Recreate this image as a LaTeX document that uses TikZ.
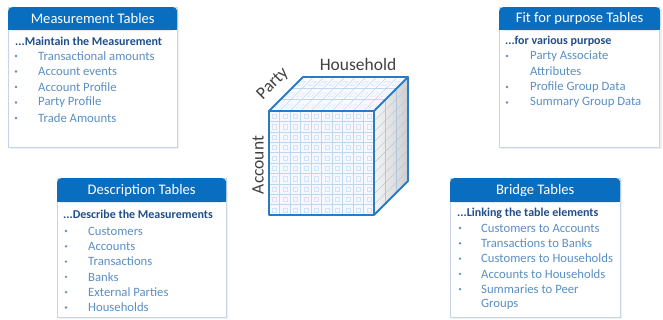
\documentclass[tikz,border=0pt]{standalone}
\usepackage{fontspec}
\setmainfont{Carlito}
\definecolor{hdrblue}{HTML}{0A6EC0}
\definecolor{boxline}{HTML}{C6D4EA}
\definecolor{subblue}{HTML}{1F4E8C}
\definecolor{itemblue}{HTML}{5B8FC4}
\definecolor{cubeblue}{HTML}{2A7BC6}
\definecolor{gridblue}{HTML}{BCD7F0}
\definecolor{gridsq}{HTML}{D2E4F5}
\definecolor{labgray}{HTML}{404040}
\tikzset{
  bodybox/.style={draw=boxline, line width=1pt, fill=white, anchor=north west, inner sep=0pt},
  hdr/.style={fill=hdrblue, text=white, rounded corners=4pt, anchor=north west, inner sep=0pt, font=\fontsize{14.6}{16}\selectfont},
  sub/.style={anchor=west, inner sep=0pt, text=subblue, font=\bfseries\fontsize{12}{14}\selectfont},
  item/.style={anchor=west, inner sep=0pt, text=itemblue, font=\fontsize{12.7}{14}\selectfont},
  bul/.style={circle, fill=itemblue, inner sep=0pt, minimum size=2.6pt},
  axlab/.style={text=labgray, inner sep=0pt, font=\fontsize{17.5}{20}\selectfont},
}
\begin{document}
\begin{tikzpicture}[x=1pt,y=-1pt]
\useasboundingbox (0,0) rectangle (663,320);

% ---------- Measurement Tables ----------
\fill[gray!12] (10,9) rectangle (179,149);
\node[bodybox, minimum width=169pt, minimum height=140pt] (mb) at (8,7) {};
\node[hdr, minimum width=169pt, minimum height=23pt] (mh) at (8,7) {Measurement Tables};
\fill[hdrblue] (8,24) rectangle (177,30);
\node[sub] (ms) at (15,41) {...Maintain the Measurement};
\foreach \t [count=\i] in {Transactional amounts, Account events, Account Profile, Party Profile, Trade Amounts}{
  \node[bul] (mbul\i) at (16,{56+15.5*(\i-1)}) {};
  \node[item] (mi\i) at (38,{56+15.5*(\i-1)}) {\t};
}

% ---------- Fit for purpose Tables ----------
\fill[gray!12] (501,9) rectangle (662,149);
\node[bodybox, minimum width=160pt, minimum height=140pt] (fb) at (499,7) {};
\node[hdr, minimum width=161pt, minimum height=23pt] (fh) at (499,7) {Fit for purpose Tables};
\fill[hdrblue] (499,24) rectangle (660,30);
\node[sub] (fs) at (505,41) {...for various purpose};
\node[bul] (fbul1) at (507,56) {};
\node[item] (fi1) at (530,56) {Party Associate};
\node[item] (fi1b) at (530,71.5) {Attributes};
\node[bul] (fbul2) at (507,87) {};
\node[item] (fi2) at (530,87) {Profile Group Data};
\node[bul] (fbul3) at (507,102.5) {};
\node[item] (fi3) at (530,102.5) {Summary Group Data};

% ---------- Description Tables ----------
\fill[gray!12] (59,180) rectangle (228,319);
\node[bodybox, minimum width=169pt, minimum height=139pt] (db) at (57,178) {};
\node[hdr, minimum width=169pt, minimum height=24pt] (dh) at (57,178) {Description Tables};
\fill[hdrblue] (57,196) rectangle (226,202);
\node[sub] (ds) at (63,214) {...Describe the Measurements};
\foreach \t [count=\i] in {Customers, Accounts, Transactions, Banks, External Parties, Households}{
  \node[bul] (dbul\i) at (66,{231+15.3*(\i-1)}) {};
  \node[item] (di\i) at (88,{231+15.3*(\i-1)}) {\t};
}

% ---------- Bridge Tables ----------
\fill[gray!12] (452,180) rectangle (622,319);
\node[bodybox, minimum width=170pt, minimum height=139pt] (bb) at (450,178) {};
\node[hdr, minimum width=170pt, minimum height=24pt] (bh) at (450,178) {Bridge Tables};
\fill[hdrblue] (450,196) rectangle (620,202);
\node[sub] (bs) at (457,213) {...Linking the table elements};
\foreach \t [count=\i] in {Customers to Accounts, Transactions to Banks, Customers to Households, Accounts to Households, Summaries to Peer}{
  \node[bul] (bbul\i) at (460,{228+15.3*(\i-1)}) {};
  \node[item] (bi\i) at (481,{228+15.3*(\i-1)}) {\t};
}
\node[item] (bi6) at (481,304.5) {Groups};

% ---------- Cube ----------
% front face
\fill[blue!3] (269,111) rectangle (374,215);
\foreach \k in {0,...,9}{
  \draw[gridblue, line width=0.5pt] ({269+10.5*\k},111) -- ({269+10.5*\k},215);
  \draw[gridblue, line width=0.5pt] (269,{111+10.4*\k}) -- (374,{111+10.4*\k});
}
\foreach \a in {0,...,9}{
  \foreach \b in {0,...,9}{
    \draw[gridsq, line width=0.4pt] ({269+10.5*\a+3.2},{111+10.4*\b+3.2}) rectangle ++(4.2,4.2);
  }
}
% top face
\fill[blue!2] (269,111) -- (374,111) -- (408,77) -- (303,77) -- cycle;
\foreach \k in {1,...,9}{
  \draw[gridblue, line width=0.4pt] ({269+10.5*\k},111) -- ({303+10.5*\k},77);
}
\foreach \v in {11.3,22.6}{
  \draw[gridblue, line width=0.4pt] ({269+\v},{111-\v}) -- ({374+\v},{111-\v});
}
\foreach \a in {0,...,9}{
  \foreach \v in {0,11.3,22.6}{
    \draw[gridsq, line width=0.35pt] ({269+10.5*\a+3+\v+3},{111-\v-3}) -- ++(4.2,0) -- ++(4,-4) -- ++(-4.2,0) -- cycle;
  }
}
% right face
\shade[left color=gray!8, right color=gray!38] (374,111) -- (408,77) -- (408,181) -- (374,215) -- cycle;
\foreach \v in {11.3,22.6}{
  \draw[gridblue!80!gray, line width=0.4pt] ({374+\v},{111-\v}) -- ({374+\v},{215-\v});
}
\foreach \k in {1,...,9}{
  \draw[gridblue!80!gray, line width=0.4pt] (374,{111+10.4*\k}) -- (408,{77+10.4*\k});
}
% edges
\draw[cubeblue, line width=1.8pt, line join=round] (269,111) rectangle (374,215);
\draw[cubeblue, line width=1.8pt, line join=round] (269,111) -- (303,77) -- (408,77) -- (374,111);
\draw[cubeblue, line width=1.8pt, line join=round] (408,77) -- (408,181) -- (374,215);

% axis labels
\node[axlab] (hh) at (358,64) {Household};
\node[axlab, rotate=45] (pa) at (273,84) {Party};
\node[axlab, rotate=90] (ac) at (258,165) {Account};
\end{tikzpicture}
\end{document}
